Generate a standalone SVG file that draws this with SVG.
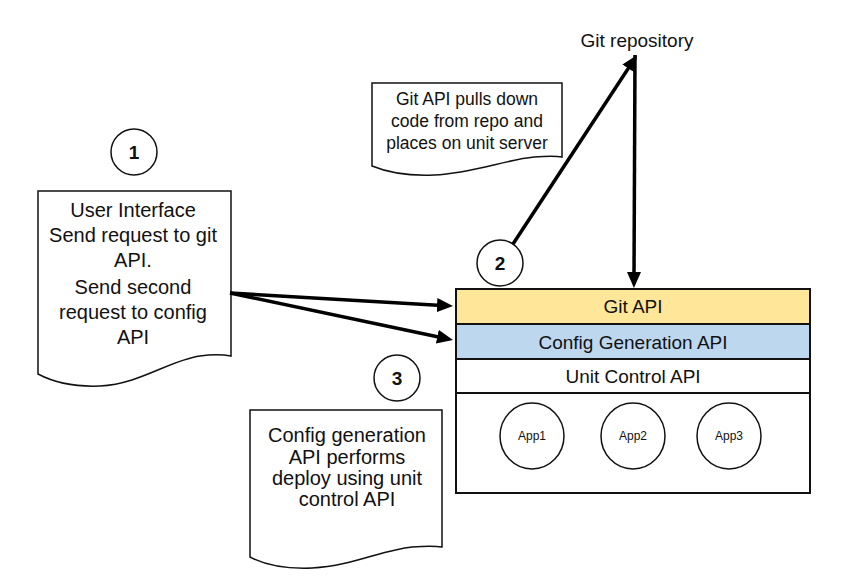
<svg xmlns="http://www.w3.org/2000/svg" width="844" height="580" viewBox="0 0 844 580">
<defs>
<style>
text{font-family:"Liberation Sans",Arial,sans-serif;fill:#111;text-anchor:middle;dominant-baseline:central}
.doc{fill:#fff;stroke:#111;stroke-width:1.5}
.num{fill:#fff;stroke:#111;stroke-width:1.5}
.numt{font-weight:bold;font-size:19px}
.t19{font-size:19px}
.t20{font-size:20px}
.t17{font-size:17.5px}
.band{stroke:#111;stroke-width:2}
.app{fill:#fff;stroke:#111;stroke-width:1.5}
.appt{font-size:12px}
.conn{stroke:#000;stroke-width:3.5;fill:none;marker-end:url(#ah)}
</style>
<marker id="ah" viewBox="0 0 16 14" refX="5" refY="7" markerWidth="16" markerHeight="14" markerUnits="userSpaceOnUse" orient="auto">
<path d="M0,0 L16,7 L0,14 Z" fill="#000"/>
</marker>
</defs>
<rect width="844" height="580" fill="#fff"/>

<g id="git-repo">
<text class="t19" x="637" y="40">Git repository</text>
</g>

<g id="note-git">
<path class="doc" d="M372,83 H562 V157 C556,156 549,156 534,157 C504,160 474,173 434,175 C409,176 389,173 372,166 Z"/>
<text class="t17" x="467" y="99">Git API pulls down</text>
<text class="t17" x="467" y="121">code from repo and</text>
<text class="t17" x="467" y="143">places on unit server</text>
</g>

<g id="step1">
<circle class="num" cx="134" cy="152" r="23"/>
<text class="numt" x="134" y="152">1</text>
</g>

<g id="step2">
<circle class="num" cx="500" cy="263" r="23"/>
<text class="numt" x="500" y="263">2</text>
</g>

<g id="step3">
<circle class="num" cx="397" cy="378" r="23"/>
<text class="numt" x="397" y="378">3</text>
</g>

<g id="ui-doc">
<path class="doc" d="M38,191 H231 V356 C225,355 215,354 200,356 C170,360 140,384 100,386 C75,387 55,383 38,374 Z"/>
<text class="t20" x="133" y="210">User Interface</text>
<text class="t20" x="133" y="235">Send request to git</text>
<text class="t20" x="133" y="260">API.</text>
<text class="t20" x="133" y="287">Send second</text>
<text class="t20" x="133" y="312">request to config</text>
<text class="t20" x="133" y="337">API</text>
</g>

<g id="config-doc">
<path class="doc" d="M250,410 H442 V547 C435,546 427,546 412,547 C382,550 352,566 312,568 C287,569 267,566 250,557 Z"/>
<text class="t20" x="347" y="435">Config generation</text>
<text class="t20" x="347" y="457">API performs</text>
<text class="t20" x="347" y="478">deploy using unit</text>
<text class="t20" x="347" y="499">control API</text>
</g>

<g id="unit-server">
<rect class="band" x="456" y="289" width="354" height="204" fill="#fff"/>
<rect class="band" x="456" y="289" width="354" height="35" fill="#ffe699"/>
<rect class="band" x="456" y="324" width="354" height="35" fill="#bdd7ee"/>
<rect class="band" x="456" y="359" width="354" height="34" fill="#fff"/>
<text class="t19" x="633" y="306">Git API</text>
<text class="t19" x="633" y="342">Config Generation API</text>
<text class="t19" x="633" y="376">Unit Control API</text>
</g>

<g id="app1">
<ellipse class="app" cx="532" cy="436" rx="32" ry="33"/>
<text class="appt" x="532" y="436">App1</text>
</g>
<g id="app2">
<ellipse class="app" cx="633" cy="436" rx="32" ry="33"/>
<text class="appt" x="633" y="436">App2</text>
</g>
<g id="app3">
<ellipse class="app" cx="729" cy="436" rx="32" ry="33"/>
<text class="appt" x="729" y="436">App3</text>
</g>

<g id="connectors">
<line class="conn" x1="230" y1="293" x2="442" y2="305.4"/>
<line class="conn" x1="230" y1="293" x2="442.2" y2="337.7"/>
<line class="conn" x1="513" y1="244" x2="631" y2="64.2"/>
<line class="conn" x1="635" y1="55" x2="634" y2="277"/>
</g>
</svg>
